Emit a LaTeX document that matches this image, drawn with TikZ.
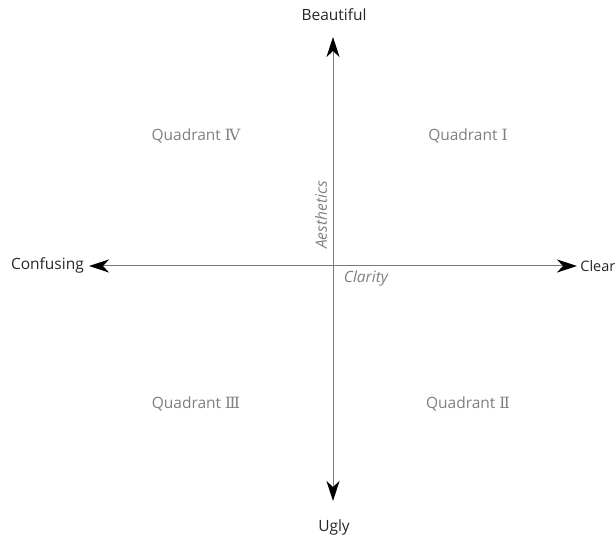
\documentclass[tikz,border=0pt]{standalone}
\usepackage{fontspec}
\setmainfont{Open Sans}
\newfontfamily\numfont{DejaVu Serif}
\usetikzlibrary{arrows.meta}
\definecolor{axisgray}{HTML}{7A7A7A}
\definecolor{quadgray}{HTML}{7F7F7F}
\definecolor{labelblack}{HTML}{262626}
\tikzset{
  axisline/.style={draw=axisgray, line width=1pt, {Stealth[length=20pt,width=13pt,inset=6pt,fill=black,color=black]}-{Stealth[length=20pt,width=13pt,inset=6pt,fill=black,color=black]}},
  endlabel/.style={text=labelblack, font=\fontsize{15.5}{18}\selectfont, inner sep=0pt},
  quadlabel/.style={text=quadgray, font=\fontsize{15.5}{18}\selectfont, inner sep=0pt},
  axislabel/.style={text=quadgray, font=\fontsize{15.5}{18}\selectfont\itshape, inner sep=0pt}
}
\begin{document}
\begin{tikzpicture}[x=1pt,y=-1pt]
\useasboundingbox (0,0) rectangle (616,540);
\coordinate (top) at (333,37);
\coordinate (bot) at (333,501);
\coordinate (lft) at (89,266);
\coordinate (rgt) at (577,266);
\draw[axisline] (bot) -- (top);
\draw[axisline] (lft) -- (rgt);
\node[endlabel] (beautiful) at (334,15) {Beautiful};
\node[endlabel] (ugly) at (334,527) {Ugly};
\node[endlabel, anchor=east] (confusing) at (84,265) {Confusing};
\node[endlabel, anchor=east, font=\fontsize{14.5}{17}\selectfont] (clear) at (615.5,266) {Clear};
\node[quadlabel] (q4) at (196,136) {Quadrant {\numfont Ⅳ}};
\node[quadlabel] (q1) at (468,136) {Quadrant {\numfont Ⅰ}};
\node[quadlabel] (q3) at (196,404) {Quadrant {\numfont Ⅲ}};
\node[quadlabel] (q2) at (468,404) {Quadrant {\numfont Ⅱ}};
\node[axislabel, rotate=90] (aes) at (321,215) {Aesthetics};
\node[axislabel] (clar) at (366,278) {Clarity};
\end{tikzpicture}
\end{document}
